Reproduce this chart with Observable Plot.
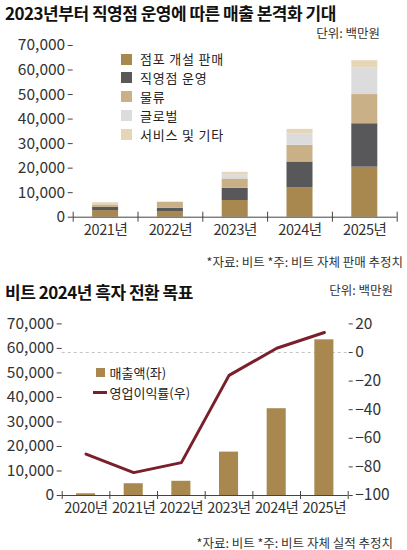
<!DOCTYPE html>
<html><head><meta charset="utf-8">
<script src="https://cdn.jsdelivr.net/npm/d3@7"></script>
<script src="https://cdn.jsdelivr.net/npm/@observablehq/plot@0.6"></script>
<style>
body{margin:0;background:#fff;}
#root{position:relative;width:407px;height:550px;overflow:hidden;font-family:"Noto Sans CJK KR","Noto Sans",sans-serif;color:#222;}
.t{position:absolute;white-space:nowrap;line-height:1;}
.title{font-size:17px;font-weight:700;letter-spacing:-0.5px;color:#111;}
.unit{font-size:12.5px;color:#333;}
.cap{font-size:12.5px;color:#333;}
.lg{font-size:13px;color:#222;letter-spacing:0.8px;}
.lg2{font-size:13px;color:#222;letter-spacing:0px;}
.sw{position:absolute;}
.plot{position:absolute;left:0;}
.xlab text{letter-spacing:-0.4px;}
</style></head><body><div id="root"></div>
<script>
// ---- Chart 1 data ----
const years1 = ["2021년", "2022년", "2023년", "2024년", "2025년"];
const seriesNames = ["점포 개설 판매", "직영점 운영", "물류", "글로벌", "서비스 및 기타"];
const storeSales = [2700, 2300, 6800, 11900, 20400];
const directOps = [1400, 1300, 5000, 10600, 17700];
const logistics = [900, 2500, 3800, 6800, 11900];
const globalSales = [0, 0, 1750, 4700, 10900];
const serviceEtc = [900, 0, 950, 1800, 2900];
const yTicks1 = [0, 10000, 20000, 30000, 40000, 50000, 60000, 70000];

// ---- Chart 2 data ----
const years2 = ["2020년", "2021년", "2022년", "2023년", "2024년", "2025년"];
const revenue = [700, 4800, 5800, 17700, 35400, 63500];
const opMargin = [-71, -84, -77, -16, 3, 14];
const yTicks2 = [0, 10000, 20000, 30000, 40000, 50000, 60000, 70000];
const pctTicks = [-100, -80, -60, -40, -20, 0, 20];

const seriesColors = ["#a8884f", "#58585a", "#c9b087", "#dcdcdc", "#e6d6b8"];
const barColor = "#a8884f";
const lineColor = "#7a1f2b";
const axisColor = "#444";

const root = document.getElementById("root");
function addText(cls, txt, opts) {
  const d = document.createElement("div");
  d.className = "t " + cls;
  d.textContent = txt;
  Object.assign(d.style, opts);
  root.appendChild(d);
  return d;
}

const plotStyle = {fontFamily: '"Noto Sans CJK KR", "Noto Sans", sans-serif', fontSize: "15px", color: "#333", background: "transparent", overflow: "visible"};

// ---- Chart 1 ----
const seriesValues = [storeSales, directOps, logistics, globalSales, serviceEtc];
const stackRows = years1.flatMap((yr, i) => seriesNames.map((s, k) => ({i, yr, series: s, value: seriesValues[k][i]})));

const chart1 = Plot.plot({
  width: 407, height: 250,
  marginTop: 45, marginBottom: 33.3, marginLeft: 72.7, marginRight: 10.3,
  x: {domain: [0, years1.length], axis: null},
  y: {domain: [0, 70000]},
  color: {domain: seriesNames, range: seriesColors},
  style: plotStyle,
  marks: [
    Plot.rectY(stackRows, {x1: "i", x2: d => d.i + 1, y: "value", fill: "series", order: seriesNames, insetLeft: 19.4, insetRight: 19.4}),
    Plot.axisY(yTicks1, {label: null, tickSize: 5, tickPadding: 3, tickFormat: d3.format(","), fontSize: 15.5, stroke: axisColor}),
    Plot.ruleY([0], {stroke: axisColor}),
    Plot.ruleX(d3.range(years1.length + 1), {x: d => d, y1: 0, y2: 0, insetTop: 5, insetBottom: 5, stroke: axisColor}),
    Plot.text(years1, {x: (d, i) => i + 0.5, y: 0, dy: 13, text: d => d, lineAnchor: "middle", fontSize: 14.5, fill: "#333", className: "xlab"})
  ]
});
chart1.classList.add("plot");
chart1.style.top = "0px";
root.appendChild(chart1);

// ---- Chart 2 ----
const pctToRev = d3.scaleLinear([-100, 20], [0, 70000]);
const chart2 = Plot.plot({
  width: 407, height: 260,
  marginTop: 53.4, marginBottom: 35, marginLeft: 61.7, marginRight: 59.3,
  x: {domain: [0, years2.length], axis: null},
  y: {domain: [0, 70000]},
  style: plotStyle,
  marks: [
    Plot.ruleY([0], {y: () => pctToRev(0), stroke: "#c4c4c4", strokeDasharray: "3,3"}),
    Plot.rectY(revenue, {x1: (d, i) => i, x2: (d, i) => i + 1, y: d => d, fill: barColor, insetLeft: 14.3, insetRight: 14.3}),
    Plot.axisY(yTicks2, {anchor: "left", label: null, tickSize: 5, tickPadding: 3, tickFormat: d3.format(","), fontSize: 15.5, stroke: axisColor}),
    Plot.axisY(pctTicks.map(p => pctToRev(p)), {anchor: "right", label: null, tickSize: 4, tickPadding: 3, fontSize: 15.5, stroke: axisColor,
      tickFormat: v => d3.format("d")(Math.round(pctToRev.invert(v)))}),
    Plot.ruleY([0], {stroke: axisColor}),
    Plot.ruleX(d3.range(years2.length + 1), {x: d => d, y1: 0, y2: 0, insetTop: 4, insetBottom: 4, stroke: axisColor}),
    Plot.text(years2, {x: (d, i) => i + 0.5, y: 0, dy: 12.5, text: d => d, lineAnchor: "middle", fontSize: 14.5, fill: "#333", className: "xlab"}),
    Plot.line(opMargin, {x: (d, i) => i + 0.5, y: d => pctToRev(d), stroke: lineColor, strokeWidth: 3})
  ]
});
chart2.classList.add("plot");
chart2.style.top = "270px";
root.appendChild(chart2);

// letter-spacing fallback for x labels if className option unsupported
[chart1, chart2].forEach(c => c.querySelectorAll('g[aria-label="text"] text').forEach(t => t.style.letterSpacing = "-0.4px"));

// ---- Titles, units, captions ----
addText("title", "2023년부터 직영점 운영에 따른 매출 본격화 기대", {left: "5px", top: "4px"});
addText("unit", "단위: 백만원", {right: (407 - 380) + "px", top: "26.5px"});
addText("cap", "*자료: 비트 *주: 비트 자체 판매 추정치", {right: (407 - 403) + "px", top: "256px"});
addText("title", "비트 2024년 흑자 전환 목표", {left: "5px", top: "282.5px"});
addText("unit", "단위: 백만원", {right: (407 - 393) + "px", top: "283.5px"});
addText("cap", "*자료: 비트 *주: 비트 자체 실적 추정치", {right: (407 - 393) + "px", top: "536.5px"});

// ---- Legend 1 ----
seriesNames.forEach((s, k) => {
  const cy = 59 + k * 18.9;
  const sw = document.createElement("div");
  sw.className = "sw";
  Object.assign(sw.style, {left: "121px", top: (cy - 5.5) + "px", width: "11px", height: "11px", background: seriesColors[k]});
  root.appendChild(sw);
  addText("lg", s, {left: "140px", top: (cy - 6.6) + "px"});
});

// ---- Legend 2 ----
const sq = document.createElement("div");
sq.className = "sw";
Object.assign(sq.style, {left: "96px", top: "367.5px", width: "9px", height: "9px", background: barColor});
root.appendChild(sq);
addText("lg2", "매출액(좌)", {left: "109.5px", top: "366px"});
const ln = document.createElement("div");
ln.className = "sw";
Object.assign(ln.style, {left: "93px", top: "391.2px", width: "14px", height: "3px", background: lineColor});
root.appendChild(ln);
addText("lg2", "영업이익률(우)", {left: "109.5px", top: "386px"});
</script>
</body></html>
